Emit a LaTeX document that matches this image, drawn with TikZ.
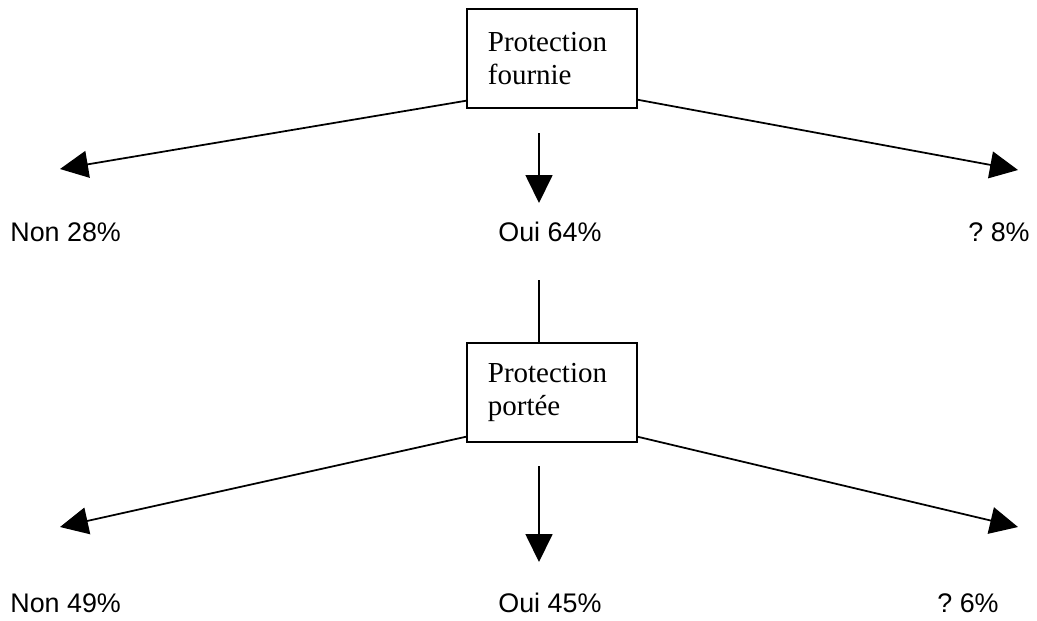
\documentclass[tikz,border=0pt]{standalone}
\usepackage{fontspec}
\setmainfont{Liberation Serif}
\setsansfont{Liberation Sans}
\usetikzlibrary{arrows.meta}

\begin{document}
\begin{tikzpicture}[x=0.02cm,y=-0.02cm,
  box/.style={draw,line width=1pt,minimum width=3.4cm,minimum height=1.98cm,text width=2.56cm,align=left,inner xsep=0.42cm,anchor=north west,font=\fontsize{16.5}{18.8}\selectfont},
  lbl/.style={inner sep=0pt,anchor=base west,font=\sffamily\fontsize{15.3}{18}\selectfont},
  arr/.style={line width=1pt,-{Triangle[length=0.56cm,width=0.54cm]}}]
\useasboundingbox (0,0) rectangle (1037,620);

\node[box] (fournie) at (466,8) {Protection\\fournie};
\node[box] (portee) at (466,342) {Protection\\portée};

\node[lbl] (non1) at (10,241) {Non 28\%};
\node[lbl] (oui1) at (498,241) {Oui 64\%};
\node[lbl,anchor=base east] (nsp1) at (1030,241) {?\ 8\%};
\node[lbl] (non2) at (10,612) {Non 49\%};
\node[lbl] (oui2) at (498,612) {Oui 45\%};
\node[lbl,anchor=base east] (nsp2) at (999,612) {?\ 6\%};

\coordinate (g1) at (60,169);
\coordinate (m1a) at (539,133);
\coordinate (m1) at (539,203);
\coordinate (d1) at (1018,170);
\coordinate (t1) at (539,280);
\coordinate (g2) at (60,527);
\coordinate (m2a) at (539,466);
\coordinate (m2) at (539,562);
\coordinate (d2) at (1018,527);

\draw[arr] ([yshift=0.16cm]fournie.south west) -- (g1);
\draw[arr] (m1a) -- (m1);
\draw[arr] ([yshift=0.18cm]fournie.south east) -- (d1);
\draw[line width=1pt] (t1) -- (t1 |- portee.north);
\draw[arr] ([yshift=0.12cm]portee.south west) -- (g2);
\draw[arr] (m2a) -- (m2);
\draw[arr] ([yshift=0.12cm]portee.south east) -- (d2);

\end{tikzpicture}
\end{document}
